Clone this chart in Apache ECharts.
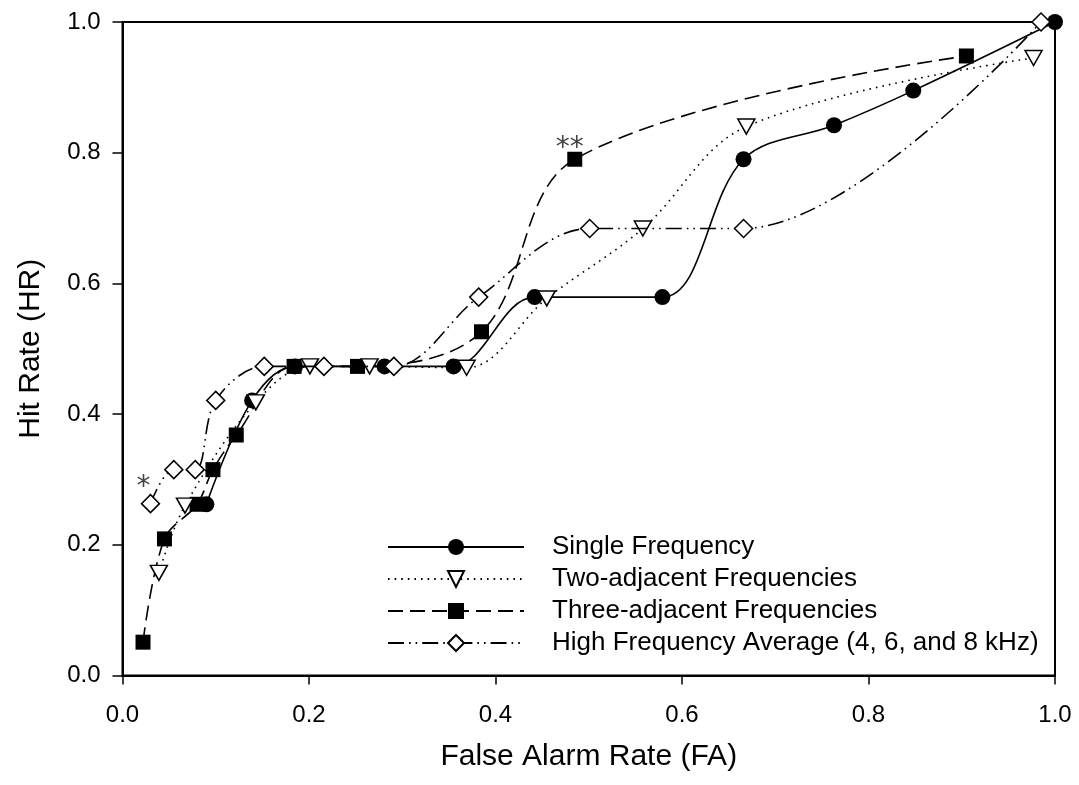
<!DOCTYPE html>
<html>
<head>
<meta charset="utf-8">
<script src="https://cdn.jsdelivr.net/npm/echarts@6/dist/echarts.min.js"></script>
<style>
html,body{margin:0;padding:0;background:#fff;}
#chart{width:1079px;height:785px;}
</style>
</head>
<body>
<div id="chart"></div>
<script>
// ---- data ----
const xTicks = [0.0, 0.2, 0.4, 0.6, 0.8, 1.0];
const yTicks = [0.0, 0.2, 0.4, 0.6, 0.8, 1.0];

const seriesNames = [
  'Single Frequency',
  'Two-adjacent Frequencies',
  'Three-adjacent Frequencies',
  'High Frequency Average (4, 6, and 8 kHz)'
];

const singleFA = [0.090, 0.139, 0.185, 0.281, 0.355, 0.442, 0.579, 0.666, 0.763, 0.848, 1.000];
const singleHR = [0.262, 0.421, 0.473, 0.473, 0.473, 0.579, 0.579, 0.790, 0.842, 0.895, 1.000];

const twoFA = [0.039, 0.067, 0.143, 0.201, 0.265, 0.369, 0.455, 0.558, 0.669, 0.977];
const twoHR = [0.157, 0.260, 0.418, 0.473, 0.473, 0.471, 0.577, 0.684, 0.840, 0.945];

const threeFA = [0.022, 0.045, 0.080, 0.097, 0.122, 0.184, 0.252, 0.385, 0.485, 0.905];
const threeHR = [0.051, 0.209, 0.262, 0.315, 0.368, 0.473, 0.473, 0.526, 0.790, 0.948];

const hfaFA = [0.030, 0.055, 0.078, 0.100, 0.152, 0.216, 0.291, 0.382, 0.501, 0.666, 0.985];
const hfaHR = [0.263, 0.315, 0.315, 0.421, 0.473, 0.473, 0.473, 0.579, 0.684, 0.684, 1.000];

// significance marks: [series, point index, mark, label offset]
const marks = [
  ['hfa', 0, '*', [-7, 8]],
  ['three', 8, '**', [-5, 11]]
];

function pairs(xs, ys, key) {
  return xs.map((x, i) => {
    const m = marks.find(k => k[0] === key && k[1] === i);
    if (!m) return [x, ys[i]];
    return {
      value: [x, ys[i]],
      label: {
        show: true, formatter: m[2], position: 'top', distance: 0,
        offset: m[3], color: '#444', fontSize: 28,
        fontFamily: 'DejaVu Sans'
      }
    };
  });
}

const FONT = 'Liberation Sans';
const hollow = { color: '#fff', borderColor: '#000', borderWidth: 1.5 };
const filled = { color: '#000', borderColor: '#000', borderWidth: 0 };

const chart = echarts.init(document.getElementById('chart'), null, { renderer: 'canvas' });

chart.setOption({
  animation: false,
  backgroundColor: '#fff',
  grid: {
    left: 122.5, right: 24, top: 22, bottom: 109.5,
    show: true, borderColor: '#000', borderWidth: 2, backgroundColor: 'transparent'
  },
  xAxis: {
    type: 'value', min: 0, max: 1, interval: 0.2,
    name: 'False Alarm Rate (FA)', nameLocation: 'middle', nameGap: 66,
    nameTextStyle: { fontFamily: FONT, fontSize: 30, color: '#000' },
    axisLine: { show: true, onZero: false, lineStyle: { color: '#000', width: 2 } },
    axisTick: { show: true, inside: false, length: 9, lineStyle: { color: '#000', width: 1.5 } },
    axisLabel: {
      margin: 28, fontFamily: FONT, fontSize: 24, color: '#000',
      formatter: v => { const t = xTicks.find(k => Math.abs(k - v) < 1e-9); return t === undefined ? '' : t.toFixed(1); }
    },
    splitLine: { show: false }
  },
  yAxis: {
    type: 'value', min: 0, max: 1, interval: 0.2,
    name: 'Hit Rate (HR)', nameLocation: 'middle', nameGap: 77, nameRotate: 90,
    nameTextStyle: { fontFamily: FONT, fontSize: 30, color: '#000' },
    axisLine: { show: true, onZero: false, lineStyle: { color: '#000', width: 2 } },
    axisTick: { show: true, inside: false, length: 10, lineStyle: { color: '#000', width: 1.5 } },
    axisLabel: {
      margin: 22, fontFamily: FONT, fontSize: 24, color: '#000',
      formatter: v => { const t = yTicks.find(k => Math.abs(k - v) < 1e-9); return t === undefined ? '' : t.toFixed(1); }
    },
    splitLine: { show: false }
  },
  legend: {
    data: seriesNames,
    orient: 'vertical',
    left: 382, top: 529,
    itemWidth: 136, itemHeight: 20, itemGap: 6,
    textStyle: { fontFamily: FONT, fontSize: 26, color: '#000', lineHeight: 26, padding: [0, 0, 0, 23] },
    selectedMode: false
  },
  series: [
    {
      name: seriesNames[0], type: 'line', z: 2, clip: false,
      data: pairs(singleFA, singleHR, 'single'),
      smooth: 0.35,
      symbol: 'circle', symbolSize: 16,
      itemStyle: filled,
      lineStyle: { color: '#000', width: 1.6, type: 'solid' }
    },
    {
      name: seriesNames[2], type: 'line', z: 3, clip: false,
      data: pairs(threeFA, threeHR, 'three'),
      smooth: 0.35,
      symbol: 'rect', symbolSize: 15,
      itemStyle: filled,
      lineStyle: { color: '#000', width: 1.6, type: [15, 7] }
    },
    {
      name: seriesNames[1], type: 'line', z: 4, clip: false,
      data: pairs(twoFA, twoHR, 'two'),
      smooth: 0.35,
      symbol: 'triangle', symbolSize: [17, 15], symbolRotate: 180,
      itemStyle: hollow,
      lineStyle: { color: '#000', width: 1.6, type: [1.6, 5] }
    },
    {
      name: seriesNames[3], type: 'line', z: 5, clip: false,
      data: pairs(hfaFA, hfaHR, 'hfa'),
      smooth: 0.35,
      symbol: 'diamond', symbolSize: 18,
      itemStyle: hollow,
      lineStyle: { color: '#000', width: 1.6, type: [16, 5, 1.6, 5, 1.6, 5] }
    }
  ]
});
</script>
</body>
</html>
